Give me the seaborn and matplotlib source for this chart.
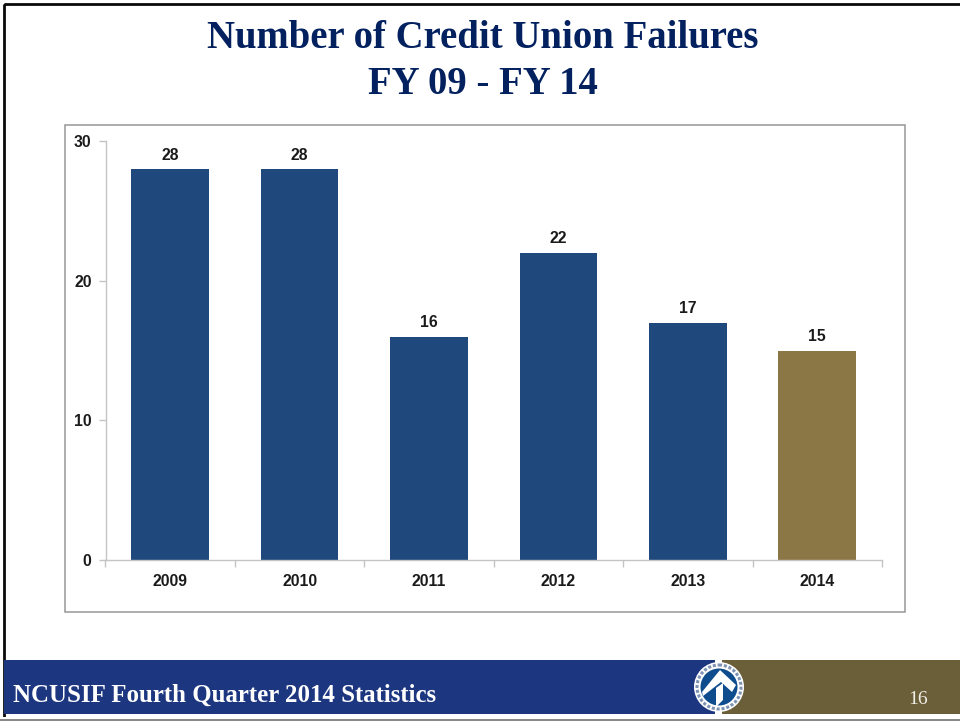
import matplotlib
matplotlib.use("Agg")
import matplotlib.pyplot as plt
from matplotlib.patches import Rectangle, Circle, Polygon
import pandas as pd
import seaborn as sns

years = ["2009", "2010", "2011", "2012", "2013", "2014"]
failures = [28, 28, 16, 22, 17, 15]
bar_colors = ["#1F497D", "#1F497D", "#1F497D", "#1F497D", "#1F497D", "#8B7646"]
y_ticks = [0, 10, 20, 30]
title_line_1 = "Number of Credit Union Failures"
title_line_2 = "FY 09 - FY 14"
footer_text = "NCUSIF Fourth Quarter 2014 Statistics"
page_number = "16"

W, H = 960, 721
sns.set_theme(style="white")
plt.rcParams["font.family"] = ["Liberation Sans", "DejaVu Sans"]

fig = plt.figure(figsize=(W / 100, H / 100), dpi=100, facecolor="white")

# full-slide layer in pixel coordinates
bg = fig.add_axes([0, 0, 1, 1], zorder=0)
bg.set_xlim(0, W)
bg.set_ylim(H, 0)
bg.axis("off")
bg.add_patch(Rectangle((3.5, 3.5), W, 714, fill=False, ec="#0a0a0a", lw=2.0))
bg.add_patch(Rectangle((0, 717), W, 4, fc="white", ec="none"))
bg.add_patch(Rectangle((0, 719), W, 2, fc="#8a8a8a", ec="none"))
bg.add_patch(Rectangle((4, 659.5), 711, 54, fc="#1C3680", ec="none"))
bg.add_patch(Rectangle((722, 659.5), W - 722, 54, fc="#6A5F38", ec="none"))
bg.add_patch(Rectangle((65, 125), 839.5, 487, fc="white", ec="#979797", lw=1.1))
# logo
bg.add_patch(Circle((719, 687), 25, fc="white", ec="none"))
bg.add_patch(Circle((719, 687), 22, fc="none", ec="#7f93b5", lw=2.2, ls=(0, (1, 0.6))))
bg.add_patch(Circle((719, 687), 18.5, fc="#0E4C8E", ec="none"))
bg.add_patch(Polygon([(720, 670), (736, 685), (732, 692), (721, 682), (703, 696), (702, 692)], fc="white", ec="none"))
bg.add_patch(Polygon([(716, 688), (723, 683), (723, 700), (716, 707)], fc="white", ec="none"))
bg.text(13, 695, footer_text, color="white", fontsize=17.9, fontweight="bold",
        family="Liberation Serif", ha="left", va="center")
bg.text(918, 700, page_number, color="#f0eee6", fontsize=14, family="Liberation Serif",
        ha="center", va="center")
bg.text(483, 38, title_line_1, color="#03215F", fontsize=27.9, fontweight="bold",
        family="Liberation Serif", ha="center", va="center")
bg.text(483, 84, title_line_2, color="#03215F", fontsize=27.9, fontweight="bold",
        family="Liberation Serif", ha="center", va="center")

# chart
left, right, top, bottom = 105.5, 882, 141, 560
ax = fig.add_axes([left / W, 1 - bottom / H, (right - left) / W, (bottom - top) / H],
                  zorder=1, facecolor="none")
df = pd.DataFrame({"year": years, "failures": failures})
sns.barplot(data=df, x="year", y="failures", hue="year", palette=bar_colors, legend=False,
            width=0.6, saturation=1, linewidth=0, ax=ax, order=years)
ax.set_xlim(-0.5, 5.5)
ax.set_ylim(0, 30)
ax.set_xlabel("")
ax.set_ylabel("")
ax.set_yticks(y_ticks)
ax.set_xticks(range(len(years)), years)
ax.set_xticks([i - 0.5 for i in range(len(years) + 1)], minor=True)
ax.tick_params(axis="x", which="major", length=0, pad=10, labelsize=11.3, labelcolor="#1a1a1a")
ax.tick_params(axis="x", which="minor", length=5, width=1, color="#c4c4c4", bottom=True)
ax.tick_params(axis="y", length=5, width=1, color="#c4c4c4", left=True, pad=5,
               labelsize=11.3, labelcolor="#1a1a1a")
for t in ax.get_xticklabels() + ax.get_yticklabels():
    t.set_fontweight("bold")
for s in ("top", "right"):
    ax.spines[s].set_visible(False)
for s in ("left", "bottom"):
    ax.spines[s].set_color("#c4c4c4")
    ax.spines[s].set_linewidth(1)
for c in ax.containers:
    ax.bar_label(c, padding=4.5, fontsize=11.3, fontweight="bold", color="#1a1a1a")

fig.savefig("out.png", dpi=100)
